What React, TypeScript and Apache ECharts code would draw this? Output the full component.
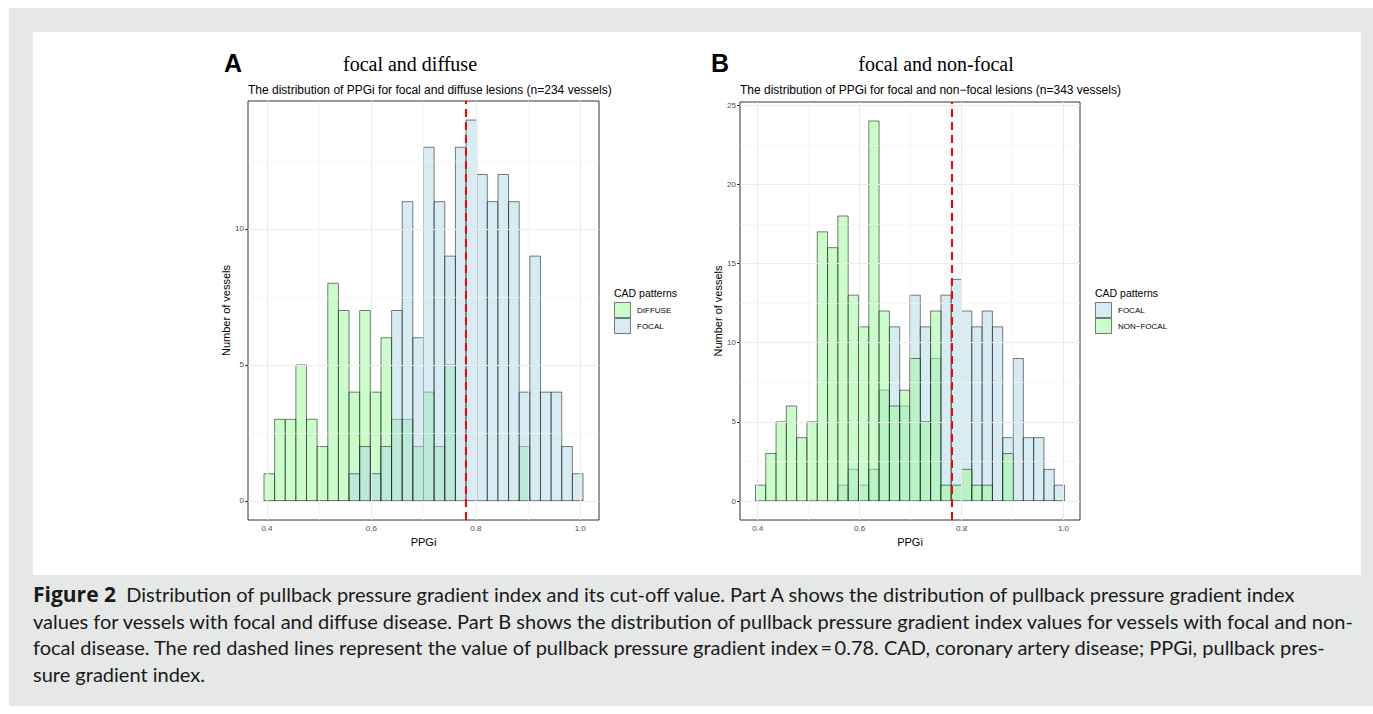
import React, { useEffect, useRef } from "react";
import * as echarts from "echarts";

// ---------- data ----------
const binStartA = 0.3943;
const binWidthA = 0.02037;
const diffuseA = [1, 3, 3, 5, 3, 2, 8, 7, 4, 7, 4, 6, 3, 3, 2, 4, 2, 5, 0, 0, 0, 0, 0, 0, 2, 0, 0, 0, 0, 0];
const focalA = [0, 0, 0, 0, 0, 0, 0, 0, 1, 2, 1, 2, 7, 11, 6, 13, 11, 9, 13, 14, 12, 11, 12, 11, 4, 9, 4, 4, 2, 1];

const binStartB = 0.3955;
const binWidthB = 0.02022;
const focalB = [0, 0, 0, 0, 0, 0, 0, 0, 1, 2, 1, 2, 7, 11, 6, 13, 11, 9, 13, 14, 12, 11, 12, 11, 4, 9, 4, 4, 2, 1];
const nonFocalB = [1, 3, 5, 6, 4, 5, 17, 16, 18, 13, 11, 24, 12, 6, 7, 9, 5, 12, 1, 1, 2, 1, 1, 0, 3, 0, 0, 0, 0, 0];

const cutoff = 0.78;
const xTicks = [0.4, 0.6, 0.8, 1.0];
const xMinor = [0.5, 0.7, 0.9];
const yTicksA = [0, 5, 10];
const yMinorA = [2.5, 7.5, 12.5];
const yTicksB = [0, 5, 10, 15, 20, 25];
const yMinorB = [2.5, 7.5, 12.5, 17.5, 22.5];

const titleA = "focal and diffuse";
const subtitleA = "The distribution of PPGi for focal and diffuse lesions (n=234 vessels)";
const titleB = "focal and non-focal";
const subtitleB = "The distribution of PPGi for focal and non\u2212focal lesions (n=343 vessels)";
const legendTitle = "CAD patterns";
const legendA = ["DIFFUSE", "FOCAL"];
const legendB = ["FOCAL", "NON\u2212FOCAL"];

const captionLines = [
  "Distribution of pullback pressure gradient index and its cut-off value. Part A shows the distribution of pullback pressure gradient index",
  "values for vessels with focal and diffuse disease. Part B shows the distribution of pullback pressure gradient index values for vessels with focal and non-",
  "focal disease. The red dashed lines represent the value of pullback pressure gradient index\u2009=\u20090.78. CAD, coronary artery disease; PPGi, pullback pres-",
  "sure gradient index.",
];

// ---------- styles ----------
const GREEN = "rgba(152,251,152,0.5)";
const BLUE = "rgba(173,216,230,0.5)";
const OUTLINE = "rgba(0,0,0,0.5)";
const SANS = "'Liberation Sans', Arial, sans-serif";
const SERIF = "'Liberation Serif', 'Times New Roman', serif";
const CAPFONT = "Lato, 'Open Sans', sans-serif";

function binRows(start: number, width: number, counts: number[]) {
  return counts.map((c, i) => [start + i * width, start + (i + 1) * width, c]);
}

function histRender(fill: string) {
  return (params: any, api: any) => {
    const x0 = api.value(0);
    const x1 = api.value(1);
    const c = api.value(2);
    const pTop = api.coord([x0, c]);
    const pBot = api.coord([x1, 0]);
    if (c === 0) {
      return {
        type: "line",
        shape: { x1: pTop[0], y1: pBot[1], x2: pBot[0], y2: pBot[1] },
        style: { stroke: OUTLINE, lineWidth: 1 },
      };
    }
    return {
      type: "rect",
      shape: { x: pTop[0], y: pTop[1], width: pBot[0] - pTop[0], height: pBot[1] - pTop[1] },
      style: { fill, stroke: OUTLINE, lineWidth: 1 },
    };
  };
}

function gridLines(idx: number, xMaj: number[], xMin: number[], yMaj: number[], yMin: number[]) {
  const maj = { color: "#ebebeb", width: 1.1, type: "solid" };
  const min = { color: "#f3f3f3", width: 0.6, type: "solid" };
  return {
    type: "line",
    xAxisIndex: idx,
    yAxisIndex: idx,
    data: [],
    z: 1,
    silent: true,
    markLine: {
      silent: true,
      symbol: "none",
      label: { show: false },
      animation: false,
      data: [
        ...xMin.map((v) => ({ xAxis: v, lineStyle: min })),
        ...yMin.map((v) => ({ yAxis: v, lineStyle: min })),
        ...xMaj.map((v) => ({ xAxis: v, lineStyle: maj })),
        ...yMaj.map((v) => ({ yAxis: v, lineStyle: maj })),
      ],
    },
  };
}

function cutLine(idx: number) {
  return {
    type: "line",
    xAxisIndex: idx,
    yAxisIndex: idx,
    data: [],
    z: 10,
    silent: true,
    markLine: {
      silent: true,
      symbol: "none",
      label: { show: false },
      animation: false,
      data: [{ xAxis: cutoff, lineStyle: { color: "#ff0000", width: 2, type: [8, 5] } }],
    },
  };
}

function xAxisOf(idx: number, min: number, max: number) {
  return {
    gridIndex: idx,
    type: "value",
    min,
    max,
    axisLine: { show: false },
    axisTick: { show: true, customValues: xTicks, length: 3, lineStyle: { color: "#333333", width: 1 } },
    axisLabel: {
      customValues: xTicks,
      formatter: (v: number) => v.toFixed(1),
      color: "#4d4d4d",
      fontSize: 8,
      fontFamily: SANS,
      margin: 4,
    },
    splitLine: { show: false },
    name: "PPGi",
    nameLocation: "middle",
    nameGap: 16,
    nameTextStyle: { color: "#000", fontSize: 11, fontFamily: SANS },
  };
}

function yAxisOf(idx: number, min: number, max: number, ticks: number[]) {
  return {
    gridIndex: idx,
    type: "value",
    min,
    max,
    axisLine: { show: false },
    axisTick: { show: true, customValues: ticks, length: 3, lineStyle: { color: "#333333", width: 1 } },
    axisLabel: {
      customValues: ticks,
      formatter: (v: number) => String(v),
      color: "#4d4d4d",
      fontSize: 8,
      fontFamily: SANS,
      margin: 4,
    },
    splitLine: { show: false },
    name: "Number of vessels",
    nameLocation: "middle",
    nameRotate: 90,
    nameGap: 17,
    nameTextStyle: { color: "#000", fontSize: 11, fontFamily: SANS },
  };
}

function legendGraphics(x: number, names: string[], fills: string[]) {
  const els: any[] = [
    {
      type: "text",
      style: { x, y: 293, text: legendTitle, fill: "#000", font: `10.5px ${SANS}`, verticalAlign: "middle" },
    },
  ];
  names.forEach((n, i) => {
    els.push({
      type: "rect",
      shape: { x: x + 0.5, y: 302.5 + i * 16, width: 16, height: 15 },
      style: { fill: fills[i], stroke: OUTLINE, lineWidth: 1 },
    });
    els.push({
      type: "text",
      style: { x: x + 23, y: 310 + i * 16, text: n, fill: "#000", font: `8px ${SANS}`, verticalAlign: "middle" },
    });
  });
  return els;
}

export default function App() {
  const ref = useRef<HTMLDivElement>(null);
  useEffect(() => {
    if (!ref.current) return;
    const chart = echarts.init(ref.current, undefined, { renderer: "svg" });
    const option: any = {
      animation: false,
      backgroundColor: "transparent",
      grid: [
        { left: 248, top: 101, width: 351, height: 419, show: true, borderColor: "#333333", borderWidth: 1, backgroundColor: "transparent", containLabel: false },
        { left: 740, top: 102, width: 340, height: 418, show: true, borderColor: "#333333", borderWidth: 1, backgroundColor: "transparent", containLabel: false },
      ],
      xAxis: [xAxisOf(0, 0.3637, 1.036), xAxisOf(1, 0.3652, 1.0324)],
      yAxis: [yAxisOf(0, -0.7, 14.7, yTicksA), yAxisOf(1, -1.2, 25.2, yTicksB)],
      series: [
        gridLines(0, xTicks, xMinor, yTicksA, yMinorA),
        gridLines(1, xTicks, xMinor, yTicksB, yMinorB),
        {
          type: "custom",
          name: "DIFFUSE",
          xAxisIndex: 0,
          yAxisIndex: 0,
          z: 3,
          renderItem: histRender(GREEN),
          encode: { x: [0, 1], y: 2 },
          data: binRows(binStartA, binWidthA, diffuseA),
        },
        {
          type: "custom",
          name: "FOCAL",
          xAxisIndex: 0,
          yAxisIndex: 0,
          z: 4,
          renderItem: histRender(BLUE),
          encode: { x: [0, 1], y: 2 },
          data: binRows(binStartA, binWidthA, focalA),
        },
        {
          type: "custom",
          name: "FOCAL",
          xAxisIndex: 1,
          yAxisIndex: 1,
          z: 3,
          renderItem: histRender(BLUE),
          encode: { x: [0, 1], y: 2 },
          data: binRows(binStartB, binWidthB, focalB),
        },
        {
          type: "custom",
          name: "NON-FOCAL",
          xAxisIndex: 1,
          yAxisIndex: 1,
          z: 4,
          renderItem: histRender(GREEN),
          encode: { x: [0, 1], y: 2 },
          data: binRows(binStartB, binWidthB, nonFocalB),
        },
        cutLine(0),
        cutLine(1),
      ],
      graphic: [
        { type: "text", style: { x: 224, y: 63, text: "A", fill: "#000", font: `bold 25px ${SANS}`, verticalAlign: "middle" } },
        { type: "text", style: { x: 410, y: 64, text: titleA, fill: "#000", font: `20px ${SERIF}`, align: "center", verticalAlign: "middle" } },
        { type: "text", style: { x: 248, y: 90, text: subtitleA, fill: "#000", font: `12px ${SANS}`, verticalAlign: "middle" } },
        { type: "text", style: { x: 711, y: 63, text: "B", fill: "#000", font: `bold 25px ${SANS}`, verticalAlign: "middle" } },
        { type: "text", style: { x: 936, y: 64, text: titleB, fill: "#000", font: `20px ${SERIF}`, align: "center", verticalAlign: "middle" } },
        { type: "text", style: { x: 740, y: 90, text: subtitleB, fill: "#000", font: `12px ${SANS}`, verticalAlign: "middle" } },
        ...legendGraphics(614, legendA, [GREEN, BLUE]),
        ...legendGraphics(1095, legendB, [BLUE, GREEN]),
        {
          type: "text",
          style: {
            x: 33,
            y: 594,
            text: "{b|Figure 2}  " + captionLines[0],
            fill: "#1a1a1a",
            font: `20px ${CAPFONT}`,
            verticalAlign: "middle",
            rich: { b: { fontWeight: "bold", fontSize: 21, fontFamily: "'Open Sans', Lato, sans-serif", fill: "#1a1a1a" } },
          },
        },
        ...captionLines.slice(1).map((t, i) => ({
          type: "text",
          style: { x: 33, y: 621 + i * 26.3, text: t, fill: "#1a1a1a", font: `20px ${CAPFONT}`, verticalAlign: "middle" },
        })),
      ],
    };
    chart.setOption(option);
    return () => chart.dispose();
  }, []);

  return (
    <div style={{ position: "absolute", left: 0, top: 0, width: 1373, height: 714, background: "#ffffff", overflow: "hidden" }}>
      <div style={{ position: "absolute", left: 9, top: 8, width: 1364, height: 698, background: "#e6e7e7" }} />
      <div style={{ position: "absolute", left: 33, top: 32, width: 1328, height: 543, background: "#ffffff" }} />
      <div ref={ref} style={{ position: "absolute", left: 0, top: 0, width: 1373, height: 714 }} />
    </div>
  );
}
